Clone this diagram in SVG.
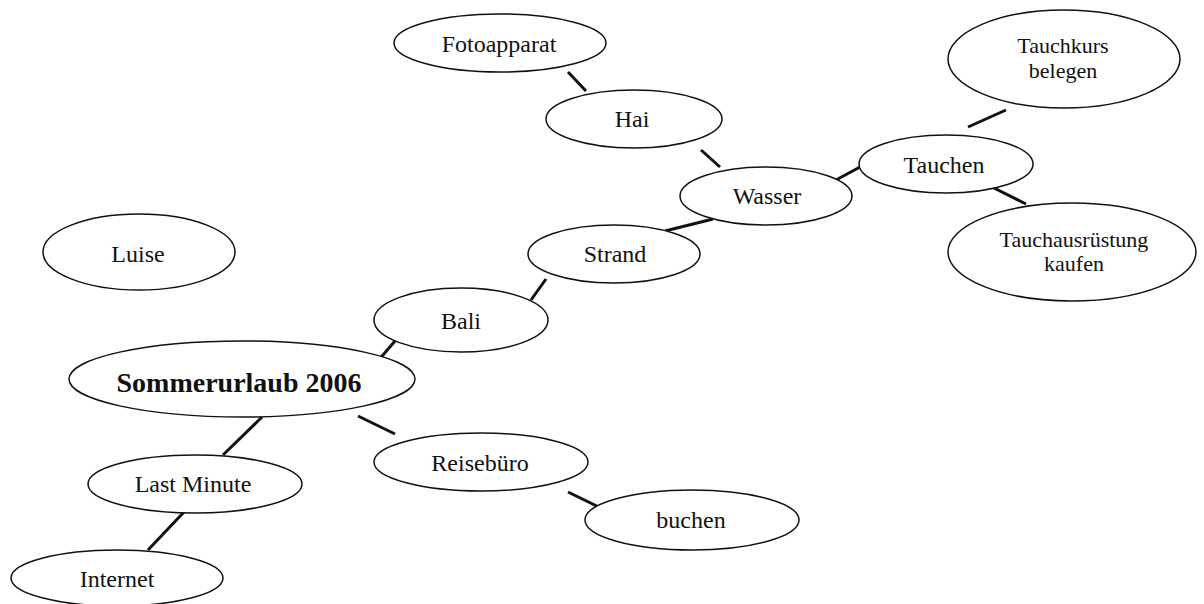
<svg xmlns="http://www.w3.org/2000/svg" width="1204" height="604" viewBox="0 0 1204 604">
<style>
.n ellipse{fill:#fff;stroke:#111;stroke-width:1.5}
.n text{font-family:"Liberation Serif","Times New Roman",serif;font-size:24px;fill:#111;text-anchor:middle}
.n text.s{font-size:22px}
.n text.b{font-size:28px;font-weight:bold}
#edges line{stroke:#111;stroke-width:3;stroke-linecap:butt}
</style>
<rect width="1204" height="604" fill="#fff"/>
<g id="edges">
<line x1="568" y1="72" x2="586" y2="91"/>
<line x1="701" y1="150" x2="720" y2="167"/>
<line x1="713" y1="219" x2="665" y2="231"/>
<line x1="836" y1="180" x2="860" y2="167"/>
<line x1="1006" y1="110" x2="968" y2="127"/>
<line x1="992" y1="187" x2="1026" y2="204"/>
<line x1="546" y1="279" x2="531" y2="300"/>
<line x1="395" y1="341" x2="377" y2="362"/>
<line x1="262" y1="417" x2="223" y2="455"/>
<line x1="184" y1="512" x2="148" y2="550"/>
<line x1="358" y1="416" x2="395" y2="434"/>
<line x1="568" y1="492" x2="605" y2="510"/>
</g>
<g id="fotoapparat" class="n"><ellipse cx="500" cy="43" rx="106" ry="29"/><text x="499" y="52">Fotoapparat</text></g>
<g id="hai" class="n"><ellipse cx="634" cy="119" rx="88" ry="29"/><text x="632" y="127">Hai</text></g>
<g id="wasser" class="n"><ellipse cx="766" cy="196" rx="86" ry="29"/><text x="767" y="204">Wasser</text></g>
<g id="strand" class="n"><ellipse cx="614" cy="254" rx="86" ry="29"/><text x="615" y="262">Strand</text></g>
<g id="tauchkurs" class="n"><ellipse cx="1064" cy="59" rx="116" ry="49"/><text class="s" x="1063" y="53">Tauchkurs</text><text class="s" x="1063" y="78">belegen</text></g>
<g id="tauchen" class="n"><ellipse cx="946" cy="164" rx="87" ry="29"/><text x="944" y="173">Tauchen</text></g>
<g id="tauchausruestung" class="n"><ellipse cx="1072" cy="252" rx="124" ry="49"/><text class="s" x="1074" y="247">Tauchausrüstung</text><text class="s" x="1074" y="271">kaufen</text></g>
<g id="luise" class="n"><ellipse cx="139" cy="252" rx="96" ry="38"/><text x="138" y="262">Luise</text></g>
<g id="bali" class="n"><ellipse cx="461" cy="320" rx="87" ry="32"/><text x="461" y="329">Bali</text></g>
<g id="sommerurlaub" class="n"><ellipse cx="242" cy="379" rx="173" ry="38"/><text class="b" x="239" y="392">Sommerurlaub 2006</text></g>
<g id="lastminute" class="n"><ellipse cx="195" cy="484" rx="107" ry="29"/><text x="193" y="492">Last Minute</text></g>
<g id="internet" class="n"><ellipse cx="117" cy="578" rx="106" ry="28"/><text x="117" y="587">Internet</text></g>
<g id="reisebuero" class="n"><ellipse cx="481" cy="462" rx="107" ry="29"/><text x="480" y="471">Reisebüro</text></g>
<g id="buchen" class="n"><ellipse cx="692" cy="520" rx="107" ry="30"/><text x="691" y="528">buchen</text></g>
</svg>
